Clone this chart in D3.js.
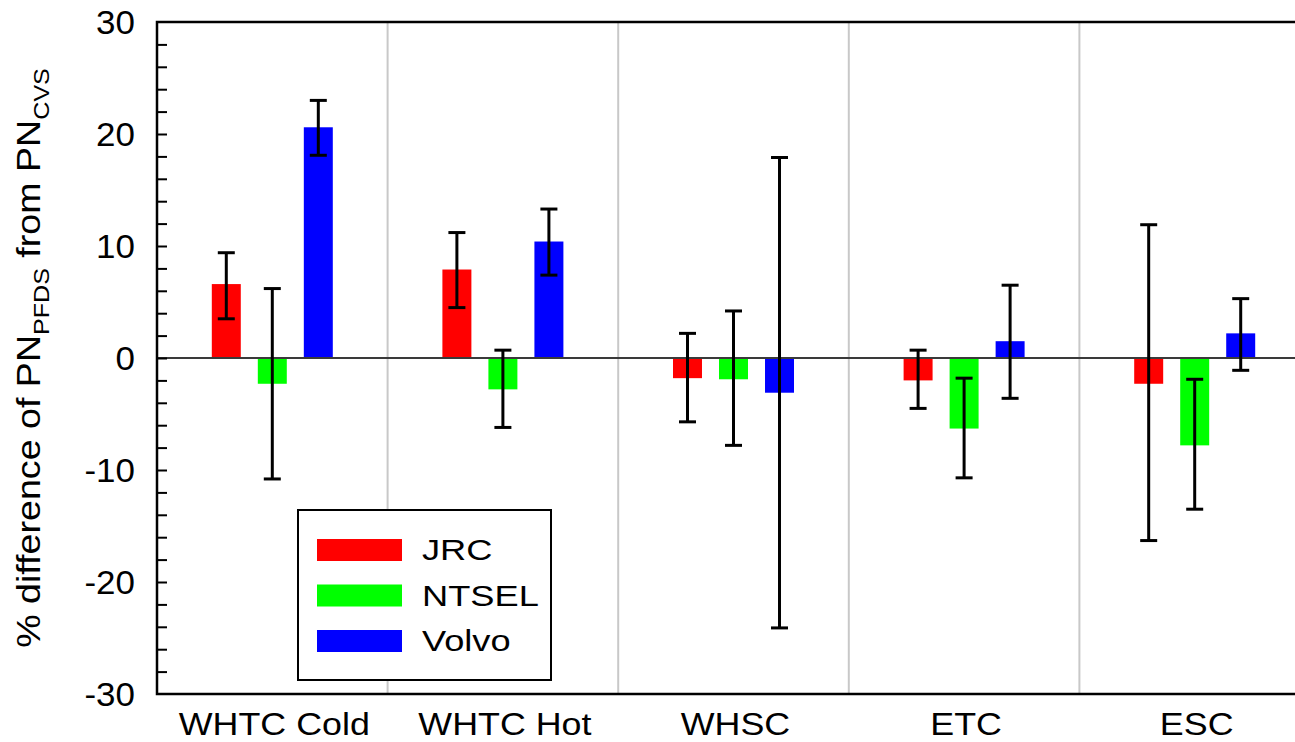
<!DOCTYPE html>
<html>
<head>
<meta charset="utf-8">
<script src="https://cdn.jsdelivr.net/npm/d3@7"></script>
<style>
  html, body { margin: 0; padding: 0; background: #fff; }
  svg { display: block; font-family: "Liberation Sans", Arial, sans-serif; }
</style>
</head>
<body>
<svg id="chart" width="1295" height="742"></svg>
<script>
// Test cycles and participating labs
const cycles = ["WHTC Cold", "WHTC Hot", "WHSC", "ETC", "ESC"];
const labs = ["JRC", "NTSEL", "Volvo"];
const labColors = ["#ff0000", "#00ff00", "#0000ff"];

// Mean % difference per lab, one entry per cycle
const jrcMean   = [6.6, 7.9, -1.8, -2.0, -2.3];
const ntselMean = [-2.3, -2.8, -1.9, -6.3, -7.8];
const volvoMean = [20.6, 10.4, -3.1, 1.5, 2.2];

// Error bar upper / lower ends
const jrcHigh   = [9.4, 11.2, 2.2, 0.7, 11.9];
const jrcLow    = [3.5, 4.5, -5.7, -4.5, -16.3];
const ntselHigh = [6.2, 0.7, 4.2, -1.8, -1.9];
const ntselLow  = [-10.8, -6.2, -7.8, -10.7, -13.5];
const volvoHigh = [23.0, 13.3, 17.9, 6.5, 5.3];
const volvoLow  = [18.1, 7.4, -24.1, -3.6, -1.1];

const yTicks = [-30, -20, -10, 0, 10, 20, 30];

const means = [jrcMean, ntselMean, volvoMean];
const highs = [jrcHigh, ntselHigh, volvoHigh];
const lows  = [jrcLow, ntselLow, volvoLow];

const svg = d3.select("#chart");
const plotL = 157, plotT = 22, plotB = 694, plotR = 1310;
const stretch = 1.14; // horizontal widening of the lettering

const x0 = d3.scaleBand().domain(cycles).range([plotL, plotR]).paddingInner(0).paddingOuter(0);
const half = x0.bandwidth() / 2;
const x1 = d3.scaleBand().domain(labs).range([half - 60.5, half + 60.5]).paddingInner(0.37).paddingOuter(0);
const y = d3.scaleLinear().domain([-30, 30]).range([plotB, plotT]);

// group separators
svg.append("g").selectAll("line")
  .data(cycles.slice(1))
  .join("line")
  .attr("x1", d => x0(d)).attr("x2", d => x0(d))
  .attr("y1", plotT).attr("y2", plotB)
  .attr("stroke", "#c8c8c8").attr("stroke-width", 2);

// rows of bar data
const rows = [];
cycles.forEach((c, i) => labs.forEach((l, j) => {
  rows.push({ cycle: c, lab: l, color: labColors[j], v: means[j][i], hi: highs[j][i], lo: lows[j][i] });
}));

// bars
svg.append("g").selectAll("rect")
  .data(rows)
  .join("rect")
  .attr("x", d => x0(d.cycle) + x1(d.lab))
  .attr("width", x1.bandwidth())
  .attr("y", d => y(Math.max(0, d.v)))
  .attr("height", d => Math.abs(y(d.v) - y(0)))
  .attr("fill", d => d.color);

// zero line
svg.append("line")
  .attr("x1", plotL).attr("x2", plotR)
  .attr("y1", y(0)).attr("y2", y(0))
  .attr("stroke", "#3a3a3a").attr("stroke-width", 2);

// error bars
const eb = svg.append("g").attr("stroke", "#000").attr("stroke-width", 3);
rows.forEach(d => {
  const cx = x0(d.cycle) + x1(d.lab) + x1.bandwidth() / 2;
  eb.append("line").attr("x1", cx).attr("x2", cx).attr("y1", y(d.hi)).attr("y2", y(d.lo));
  eb.append("line").attr("x1", cx - 8.5).attr("x2", cx + 8.5).attr("y1", y(d.hi)).attr("y2", y(d.hi));
  eb.append("line").attr("x1", cx - 8.5).attr("x2", cx + 8.5).attr("y1", y(d.lo)).attr("y2", y(d.lo));
});

// y axis with inward minor ticks
const yAxis = d3.axisRight(y).tickValues(d3.range(-28, 30, 2)).tickSize(10).tickFormat("");
const ya = svg.append("g").attr("transform", `translate(${plotL},0)`).call(yAxis);
ya.select(".domain").remove();
ya.selectAll(".tick line").attr("stroke", "#000").attr("stroke-width", 2);

// y tick labels
svg.append("g").selectAll("text")
  .data(yTicks)
  .join("text")
  .attr("transform", d => `translate(135,${y(d)}) scale(1.06,1)`)
  .attr("dy", "0.36em")
  .attr("text-anchor", "end")
  .attr("font-size", 33)
  .text(d => d);

// frame: left, top, bottom
svg.append("path")
  .attr("d", `M${plotR},${plotT}H${plotL}V${plotB}H${plotR}`)
  .attr("fill", "none").attr("stroke", "#000").attr("stroke-width", 2.5);

// category labels
svg.append("g").selectAll("text")
  .data(cycles)
  .join("text")
  .attr("transform", d => `translate(${x0(d) + half + 2},735) scale(1.12,1)`)
  .attr("text-anchor", "middle")
  .attr("font-size", 32)
  .text(d => d);

// y axis title
const title = svg.append("text")
  .attr("transform", `translate(40,358) rotate(-90) scale(${stretch},1)`)
  .attr("text-anchor", "middle")
  .attr("font-size", 33);
title.append("tspan").text("% difference of PN");
title.append("tspan").attr("font-size", 22).attr("dy", 9).text("PFDS");
title.append("tspan").attr("dy", -9).text(" from PN");
title.append("tspan").attr("font-size", 22).attr("dy", 9).text("CVS");

// legend
const lg = svg.append("g");
lg.append("rect")
  .attr("x", 298).attr("y", 510).attr("width", 253).attr("height", 170)
  .attr("fill", "#fff").attr("stroke", "#000").attr("stroke-width", 2);
labs.forEach((l, j) => {
  const yy = 539 + j * 45.5;
  lg.append("rect").attr("x", 317).attr("y", yy).attr("width", 85).attr("height", 22).attr("fill", labColors[j]);
  lg.append("text")
    .attr("transform", `translate(422,${yy + 11}) scale(1.25,1)`)
    .attr("dy", "0.36em")
    .attr("font-size", 29).text(l);
});
</script>
</body>
</html>
